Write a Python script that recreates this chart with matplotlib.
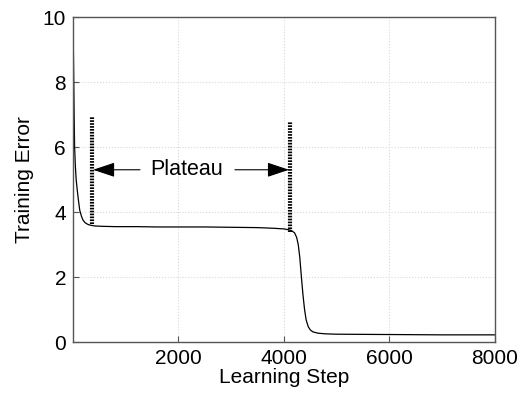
import matplotlib
matplotlib.use("Agg")
import matplotlib.pyplot as plt

# training curve
steps = [0, 10, 20, 30, 45, 60, 80, 100, 127, 160, 190, 230, 280, 340, 420,
         550, 800, 1200, 1600, 2000, 2500, 3000, 3500, 3800, 4000, 4100,
         4150, 4200, 4240, 4270, 4300, 4330, 4360, 4390, 4420, 4460, 4500,
         4550, 4650, 4800, 5000, 6000, 7000, 8000]
error = [10.0, 8.6, 7.2, 6.0, 5.4, 5.0, 4.68, 4.4, 4.06, 3.87, 3.75, 3.67,
         3.62, 3.59, 3.57, 3.56, 3.55, 3.55, 3.54, 3.54, 3.54, 3.53, 3.52,
         3.50, 3.48, 3.45, 3.42, 3.36, 3.22, 3.0, 2.6, 2.0, 1.45, 1.0, 0.68,
         0.47, 0.37, 0.31, 0.27, 0.25, 0.24, 0.23, 0.22, 0.22]

# plateau markers: x, y bottom, y top
marker_x = [360, 4115]
marker_lo = [3.63, 3.38]
marker_hi = [6.92, 6.77]
arrow_y = 5.3
label_x = 2160

plt.rcParams["font.family"] = ["Liberation Sans", "DejaVu Sans"]
plt.rcParams["font.size"] = 15

fig = plt.figure(figsize=(5.26, 3.98), dpi=100)
ax = fig.add_axes([0.1388, 0.1407, 0.8022, 0.8165])

ax.plot(steps, error, color="black", linewidth=0.9)

for x, lo, hi in zip(marker_x, marker_lo, marker_hi):
    ax.plot([x, x], [lo, hi], color="black", linewidth=3,
            linestyle=(0, (0.4, 0.3)), solid_capstyle="butt")

ax.text(label_x, arrow_y, "Plateau", ha="center", va="center", fontsize=15.5)
ax.annotate("", xy=(marker_x[0] + 20, arrow_y), xytext=(1270, arrow_y),
            arrowprops=dict(arrowstyle="-|>,head_length=0.9,head_width=0.3",
                            color="black", lw=0.8, shrinkA=0, shrinkB=0))
ax.annotate("", xy=(marker_x[1] - 20, arrow_y), xytext=(3070, arrow_y),
            arrowprops=dict(arrowstyle="-|>,head_length=0.9,head_width=0.3",
                            color="black", lw=0.8, shrinkA=0, shrinkB=0))

ax.set_xlim(0, 8000)
ax.set_ylim(0, 10)
ax.set_xticks([2000, 4000, 6000, 8000])
ax.set_yticks([0, 2, 4, 6, 8, 10])
ax.set_xlabel("Learning Step", labelpad=0)
ax.set_ylabel("Training Error", labelpad=6)
ax.grid(True, color="#d8d8d8", linestyle=":", linewidth=0.8)
ax.tick_params(direction="in", length=4, color="#555555", pad=5)
for s in ax.spines.values():
    s.set_color("#555555")
    s.set_linewidth(1.0)

fig.savefig("out.png", dpi=100)
